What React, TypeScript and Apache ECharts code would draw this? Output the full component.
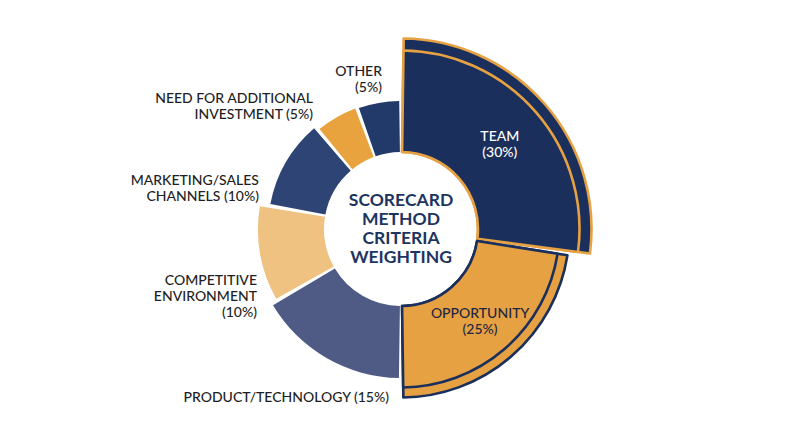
import React, { useEffect, useRef } from 'react';
import * as echarts from 'echarts';

// ---- data ----
const rightNames = ['TEAM', 'OPPORTUNITY'];
const rightValues = [30, 25];
const leftNames = ['PRODUCT/TECHNOLOGY', 'COMPETITIVE\nENVIRONMENT', 'MARKETING/SALES\nCHANNELS', 'NEED FOR ADDITIONAL\nINVESTMENT', 'OTHER'];
const leftValues = [15, 10, 10, 5, 5];
const leftPctSep = [' ', '\n', ' ', ' ', '\n'];
const centerTitle = ['SCORECARD', 'METHOD', 'CRITERIA', 'WEIGHTING'];

// ---- styles / layout ----
const FONT = 'Lato';
const NAVY = '#1b2f5c';
const ORANGE = '#e6a143';
const CENTER = [401, 229];
const INNER = 77;
const PAD = 1.6;
const LH = 16;
const leftColors = ['#4f5b84', '#efc282', '#2d4474', '#e8a33f', '#223a6a'];
const leftRadius = [149, 143, 133, 129, 128];
// right edge x, first-line centre y
const leftLabelPos = [[389, 396], [257, 279], [259, 179], [313, 97], [382, 70]];
const TRANSPARENT = 'rgba(0,0,0,0)';

function sliceSeries(names: string[], values: number[], idx: number, radius: number, startAngle: number, endAngle: number, minAngle: number, itemStyle: any, label?: any) {
  return {
    type: 'pie',
    center: CENTER,
    radius: [INNER, radius],
    startAngle,
    endAngle,
    clockwise: true,
    padAngle: PAD,
    minAngle,
    silent: true,
    avoidLabelOverlap: false,
    emphasis: { disabled: true },
    labelLine: { show: false },
    data: values.map((v, j) => ({
      name: names[j],
      value: v,
      itemStyle: j === idx ? itemStyle : { color: TRANSPARENT, borderWidth: 0 },
      label: j === idx && label ? label : { show: false },
    })),
  };
}

export default function App() {
  const ref = useRef<HTMLDivElement>(null);
  useEffect(() => {
    if (!ref.current) return;
    const chart = echarts.init(ref.current, undefined, { renderer: 'svg' });
    const series: any[] = [];
    // left half
    leftValues.forEach((_, i) => {
      series.push(sliceSeries(leftNames, leftValues, i, leftRadius[i], -90, 90, 24, { color: leftColors[i], borderWidth: 0 }));
    });
    // right half: Team (outer band + inner)
    series.push(sliceSeries(rightNames, rightValues, 0, 190.5, 90, -90, 0, { color: NAVY, borderColor: ORANGE, borderWidth: 2.6 }));
    series.push(sliceSeries(rightNames, rightValues, 0, 178.5, 90, -90, 0, { color: NAVY, borderColor: ORANGE, borderWidth: 2.6 }, {
      show: true, position: 'inside', formatter: (p: any) => `${p.name}\n(${p.value}%)`,
      color: '#ffffff', fontSize: 14, lineHeight: 16, fontFamily: FONT, fontWeight: 500,
    }));
    // Opportunity
    series.push(sliceSeries(rightNames, rightValues, 1, 168.5, 90, -90, 0, { color: ORANGE, borderColor: NAVY, borderWidth: 2.6 }));
    series.push(sliceSeries(rightNames, rightValues, 1, 158.5, 90, -90, 0, { color: ORANGE, borderColor: NAVY, borderWidth: 2.6 }, {
      show: true, position: 'inside', formatter: (p: any) => `${p.name}\n(${p.value}%)`,
      color: '#1f2640', fontSize: 14, lineHeight: 16, fontFamily: FONT, fontWeight: 500,
    }));

    const graphics: any[] = leftNames.map((n, i) => ({
      type: 'text',
      x: leftLabelPos[i][0],
      y: leftLabelPos[i][1] - LH / 2,
      silent: true,
      style: {
        text: `${n}${leftPctSep[i]}(${leftValues[i]}%)`,
        align: 'right',
        verticalAlign: 'top',
        lineHeight: LH,
        fontSize: 14,
        fontFamily: FONT,
        fontWeight: 500,
        fill: '#1e1e24',
      },
    }));
    graphics.push({
      type: 'text',
      x: CENTER[0],
      y: CENTER[1] - 1,
      silent: true,
      style: {
        text: centerTitle.join('\n'),
        align: 'center',
        verticalAlign: 'middle',
        lineHeight: 19,
        fontSize: 17.5,
        fontFamily: FONT,
        fontWeight: 'bold',
        fill: '#1d3461',
      },
    });

    chart.setOption({
      animation: false,
      backgroundColor: '#ffffff',
      series,
      graphic: graphics,
    });
    return () => chart.dispose();
  }, []);
  return <div ref={ref} style={{ position: 'absolute', left: 0, top: 0, width: 800, height: 447 }} />;
}
